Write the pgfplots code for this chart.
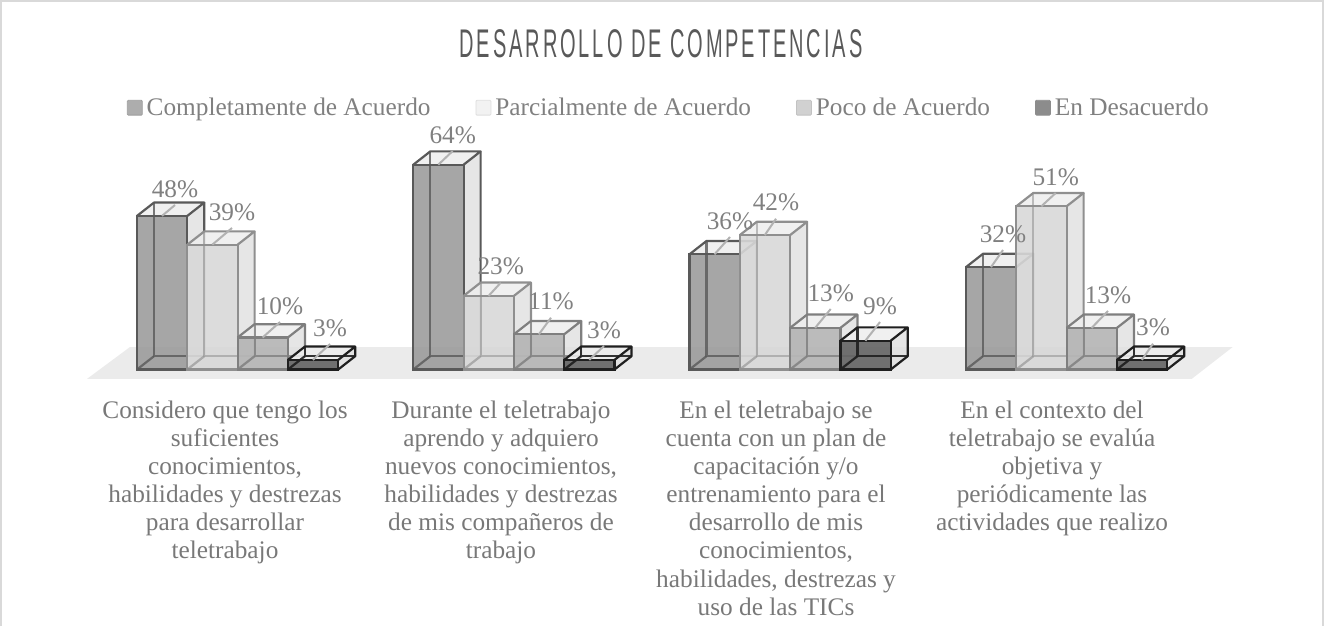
\documentclass[border=0pt]{standalone}
\usepackage{fontspec}
\setmainfont{Liberation Serif}
\newfontfamily\titlefont[FakeStretch=0.5,LetterSpace=7.3]{Liberation Sans}
\usepackage{pgfplots}
\pgfplotsset{compat=1.18}

\definecolor{txt}{HTML}{808080}
\definecolor{cattxt}{HTML}{787878}
\definecolor{floorc}{HTML}{EBEBEB}
\definecolor{fa}{HTML}{9C9C9C}\definecolor{ea}{HTML}{595959}
\definecolor{fb}{HTML}{D8D8D8}\definecolor{eb}{HTML}{8F8F8F}
\definecolor{fc}{HTML}{B4B4B4}\definecolor{ec}{HTML}{7F7F7F}
\definecolor{fd}{HTML}{636363}\definecolor{ed}{HTML}{1F1F1F}

% #1 x left (px), #2 value (%), #3 front, #4 edge, #5 line width, #6 back edge opacity
\newcommand\bbar[6]{%
  \pgfmathsetmacro\xa{#1}\pgfmathsetmacro\xb{#1+50.3}%
  \pgfmathsetmacro\xc{#1+17}\pgfmathsetmacro\xd{#1+67.3}%
  \pgfmathsetmacro\yt{#2}\pgfmathsetmacro\yd{#2+4.16}%
  % faces
  \addplot[forget plot,fill=white!88!black,fill opacity=.8,draw=none]
    coordinates {(\xb,0)(\xd,4.16)(\xd,\yd)(\xb,\yt)} --cycle;
  \addplot[forget plot,fill=white!93!black,fill opacity=.85,draw=none]
    coordinates {(\xa,\yt)(\xc,\yd)(\xd,\yd)(\xb,\yt)} --cycle;
  \addplot[forget plot,fill=#3,fill opacity=.9,draw=none]
    coordinates {(\xa,0)(\xb,0)(\xb,\yt)(\xa,\yt)} --cycle;
  % edges seen through the box
  \addplot[forget plot,draw=#4,line width=#5,opacity=#6]
    coordinates {(\xc,\yd)(\xc,4.16)(\xd,4.16)};
  \addplot[forget plot,draw=#4,line width=#5,opacity=#6]
    coordinates {(\xa,0)(\xc,4.16)};
  % outer edges
  \addplot[forget plot,draw=#4,line width=#5]
    coordinates {(\xa,0)(\xb,0)(\xb,\yt)(\xa,\yt)} --cycle;
  \addplot[forget plot,draw=#4,line width=#5,line join=round]
    coordinates {(\xa,\yt)(\xc,\yd)(\xd,\yd)(\xb,\yt)};
  \addplot[forget plot,draw=#4,line width=#5,line join=round]
    coordinates {(\xd,\yd)(\xd,4.16)(\xb,0)};
}
% #1 x left, #2 value, #3 #4 label centre in px
\newcommand\blabel[4]{%
  \draw[color=white!70!black,line width=1pt] (axis cs:{#1+25},#2) -- (axis cs:#3,{(369.5-#4-16)/3.2});
  \node[text=txt,inner sep=0pt,font=\fontsize{12.65}{14}\selectfont] at (axis cs:#3,{(369.5-#4)/3.2}) {#2\%};
}

\begin{document}
\begin{tikzpicture}
\begin{axis}[
  scale only axis, width=662pt, height=184.75pt,
  xmin=0, xmax=1324, ymin=0, ymax=115.47,
  clip=false,
  axis line style={draw=none}, tick style={draw=none},
  ytick=\empty,
  xtick={225,501,776,1052},
  xticklabels={
    {Considero que tengo los\\suficientes\\conocimientos,\\habilidades y destrezas\\para desarrollar\\teletrabajo},
    {Durante el teletrabajo\\aprendo y adquiero\\nuevos conocimientos,\\habilidades y destrezas\\de mis compañeros de\\trabajo},
    {En el teletrabajo se\\cuenta con un plan de\\capacitación y/o\\entrenamiento para el\\desarrollo de mis\\conocimientos,\\habilidades, destrezas y\\uso de las TICs},
    {En el contexto del\\teletrabajo se evalúa\\objetiva y\\periódicamente las\\actividades que realizo}
  },
  xticklabel style={align=center,anchor=north,text=cattxt,inner sep=0pt,yshift=-15.5pt,
    font=\fontsize{12.65}{14.05}\selectfont},
  legend columns=4,
  legend style={at={(axis cs:126.5,81.8)},anchor=west,draw=none,fill=none,inner sep=0pt,
    font=\fontsize{12.65}{14}\selectfont,text=txt,
    /tikz/every even column/.append style={column sep=20.5pt}},
  legend image code/.code={\draw[#1,rounded corners=.5pt] (0pt,-3.7pt) rectangle (7.5pt,3.7pt);},
]
% marco y suelo
\path (axis cs:0,115.47) rectangle (axis cs:1324,-80.16);
\draw[color=black!15,line width=1pt] (axis cs:1,-80.16) -- (axis cs:1,115.15) -- (axis cs:1323,115.15) -- (axis cs:1323,-80.16);
\addplot[forget plot,fill=floorc,draw=none]
  coordinates {(87,-2.94)(130,7.03)(1232.7,7.03)(1191.7,-2.94)} --cycle;

\bbar{137}{48}{fa}{ea}{1.1pt}{.8}
\bbar{187.3}{39}{fb}{eb}{1.1pt}{.55}
\bbar{237.6}{10}{fc}{ec}{1.1pt}{.8}
\bbar{287.9}{3}{fd}{ed}{1.1pt}{.9}

\bbar{413.3}{64}{fa}{ea}{1.1pt}{.8}
\bbar{463.6}{23}{fb}{eb}{1.1pt}{.55}
\bbar{513.9}{11}{fc}{ec}{1.1pt}{.8}
\bbar{564.2}{3}{fd}{ed}{1.1pt}{.9}

\bbar{689.5}{36}{fa}{ea}{1.1pt}{.8}
\bbar{739.8}{42}{fb}{eb}{1.1pt}{.55}
\bbar{790.1}{13}{fc}{ec}{1.1pt}{.8}
\bbar{840.4}{9}{fd}{ed}{1.1pt}{.9}

\bbar{966}{32}{fa}{ea}{1.1pt}{.8}
\bbar{1016.3}{51}{fb}{eb}{1.1pt}{.55}
\bbar{1066.6}{13}{fc}{ec}{1.1pt}{.8}
\bbar{1116.9}{3}{fd}{ed}{1.1pt}{.9}

\blabel{137}{48}{175}{189}
\blabel{187.3}{39}{232}{212}
\blabel{237.6}{10}{280}{306}
\blabel{287.9}{3}{330}{328}
\blabel{413.3}{64}{452.7}{135}
\blabel{463.6}{23}{500.7}{266.7}
\blabel{513.9}{11}{551}{301.7}
\blabel{564.2}{3}{604}{330}
\blabel{689.5}{36}{730}{221}
\blabel{739.8}{42}{776}{202.7}
\blabel{790.1}{13}{830.7}{293}
\blabel{840.4}{9}{880}{306}
\blabel{966}{32}{1003}{234}
\blabel{1016.3}{51}{1055.7}{177}
\blabel{1066.6}{13}{1108}{295}
\blabel{1116.9}{3}{1153}{327.7}

\node[text=black!65,inner sep=0pt,font=\titlefont\fontsize{20}{24}\selectfont] at (axis cs:661,{(369.5-43.5)/3.2}) {DESARROLLO DE COMPETENCIAS};

\addlegendimage{fill=black!32,draw=black!38}
\addlegendimage{fill=black!5,draw=black!13}
\addlegendimage{fill=black!18,draw=black!24}
\addlegendimage{fill=black!45,draw=black!45}
\legend{Completamente de Acuerdo,Parcialmente de Acuerdo,Poco de Acuerdo,En Desacuerdo}
\end{axis}
\end{tikzpicture}
\end{document}
